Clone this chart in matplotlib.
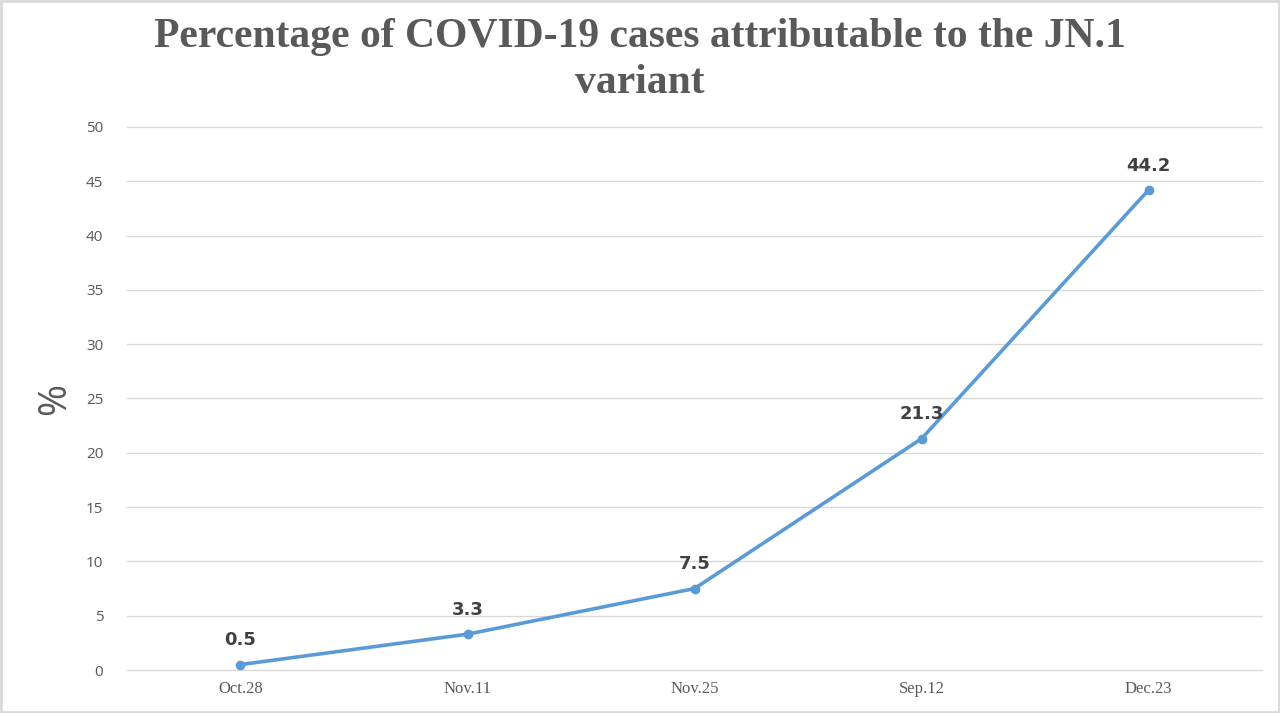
import matplotlib.pyplot as plt
from matplotlib.patches import Rectangle

dates = ["Oct.28", "Nov.11", "Nov.25", "Sep.12", "Dec.23"]
share = [0.5, 3.3, 7.5, 21.3, 44.2]
yticks = [0, 5, 10, 15, 20, 25, 30, 35, 40, 45, 50]

fig = plt.figure(figsize=(12.8, 7.13), dpi=100)
ax = fig.add_axes([0.0992, 0.0603, 0.8868, 0.7616])

x = range(len(dates))
ax.plot(x, share, color="#5B9BD5", lw=2.6, marker="o", ms=6, zorder=3, clip_on=False)
for xi, v in zip(x, share):
    ax.annotate(f"{v}", (xi, v), xytext=(0, 11), textcoords="offset points",
                ha="center", va="bottom", fontsize=13, fontweight="bold",
                color="#404040", family="DejaVu Sans")

ax.set_xlim(-0.5, len(dates) - 0.5)
ax.set_ylim(0, 50)
ax.set_yticks(yticks)
ax.set_xticks(list(x))
ax.set_xticklabels(dates, family="Liberation Serif", fontsize=12, color="#595959")
ax.tick_params(axis="y", labelsize=11, labelcolor="#595959", length=0, pad=17)
ax.tick_params(axis="x", length=0, pad=8)
for lbl in ax.get_yticklabels():
    lbl.set_family("Open Sans")
ax.grid(axis="y", color="#d9d9d9", lw=1)
for gl in ax.get_ygridlines():
    gl.set_clip_on(False)
ax.set_axisbelow(True)
for s in ax.spines.values():
    s.set_visible(False)

fig.text(0.043, 0.44, "%", rotation=90, fontsize=28, color="#595959",
         ha="center", va="center", family="Open Sans")
fig.text(0.5, 0.975, "Percentage of COVID-19 cases attributable to the JN.1\nvariant",
         ha="center", va="top", fontsize=30, fontweight="bold", color="#595959",
         family="Liberation Serif", linespacing=1.28)

fig.patches.append(Rectangle((0.001, 0.002), 0.998, 0.996, transform=fig.transFigure,
                             fill=False, ec="#d9d9d9", lw=2))

fig.savefig("out.png", dpi=100)
